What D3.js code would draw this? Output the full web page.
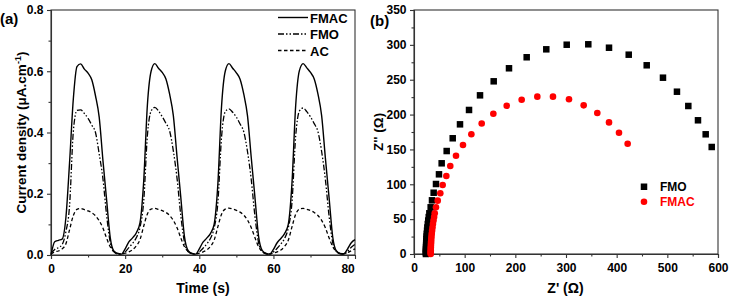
<!DOCTYPE html>
<html>
<head>
<meta charset="utf-8">
<script src="https://cdn.jsdelivr.net/npm/d3@7"></script>
<style>
  body { margin: 0; background: #fff; }
  svg text { font-family: "Liberation Sans", Arial, sans-serif; font-weight: bold; fill: #000; }
</style>
</head>
<body>
<script>
// ---- panel (a): photocurrent vs time ----
const timeS = [0, 1, 2, 3, 4, 5, 6, 7, 8, 9, 10, 11, 12, 13, 14, 15, 16, 17, 18, 19,
  20, 21, 22, 23, 24, 25, 26, 27, 28, 29, 30, 31, 32, 33, 34, 35, 36, 37, 38, 39,
  40, 41, 42, 43, 44, 45, 46, 47, 48, 49, 50, 51, 52, 53, 54, 55, 56, 57, 58, 59,
  60, 61, 62, 63, 64, 65, 66, 67, 68, 69, 70, 71, 72, 73, 74, 75, 76, 77, 78, 79,
  80, 81, 82];

const fmacCurrent = [
  0.000, 0.043, 0.048, 0.052, 0.120, 0.300, 0.506, 0.615, 0.624, 0.607,
  0.594, 0.572, 0.520, 0.450, 0.310, 0.180, 0.055, 0.012, 0.005, 0.003,
  0.020, 0.043, 0.056, 0.072, 0.105, 0.240, 0.490, 0.600, 0.625, 0.610,
  0.596, 0.575, 0.525, 0.455, 0.320, 0.190, 0.060, 0.014, 0.005, 0.003,
  0.020, 0.042, 0.055, 0.070, 0.100, 0.230, 0.485, 0.600, 0.625, 0.610,
  0.595, 0.574, 0.525, 0.455, 0.320, 0.190, 0.060, 0.014, 0.005, 0.003,
  0.018, 0.040, 0.054, 0.070, 0.100, 0.235, 0.488, 0.602, 0.625, 0.611,
  0.596, 0.575, 0.526, 0.455, 0.318, 0.188, 0.058, 0.013, 0.005, 0.004,
  0.020, 0.040, 0.050];

const fmoCurrent = [
  0.005, 0.018, 0.024, 0.034, 0.075, 0.160, 0.400, 0.472, 0.474, 0.462,
  0.446, 0.424, 0.400, 0.330, 0.250, 0.130, 0.040, 0.010, 0.003, 0.003,
  0.010, 0.024, 0.038, 0.056, 0.090, 0.175, 0.390, 0.470, 0.482, 0.470,
  0.452, 0.430, 0.405, 0.340, 0.250, 0.130, 0.042, 0.011, 0.004, 0.003,
  0.010, 0.022, 0.036, 0.054, 0.088, 0.170, 0.385, 0.468, 0.477, 0.466,
  0.450, 0.428, 0.402, 0.338, 0.248, 0.128, 0.040, 0.011, 0.004, 0.003,
  0.010, 0.022, 0.036, 0.054, 0.088, 0.172, 0.388, 0.470, 0.480, 0.468,
  0.451, 0.429, 0.403, 0.338, 0.248, 0.128, 0.040, 0.011, 0.004, 0.003,
  0.012, 0.025, 0.035];

const acCurrent = [
  0.003, 0.010, 0.013, 0.020, 0.036, 0.082, 0.128, 0.149, 0.152, 0.148,
  0.144, 0.138, 0.128, 0.112, 0.088, 0.055, 0.026, 0.011, 0.005, 0.004,
  0.006, 0.010, 0.017, 0.030, 0.050, 0.094, 0.134, 0.150, 0.152, 0.149,
  0.145, 0.139, 0.129, 0.113, 0.089, 0.056, 0.027, 0.011, 0.005, 0.004,
  0.006, 0.010, 0.016, 0.028, 0.048, 0.092, 0.133, 0.150, 0.153, 0.150,
  0.146, 0.140, 0.130, 0.114, 0.090, 0.057, 0.027, 0.011, 0.005, 0.004,
  0.006, 0.010, 0.016, 0.028, 0.048, 0.092, 0.133, 0.150, 0.152, 0.149,
  0.145, 0.139, 0.129, 0.113, 0.089, 0.056, 0.027, 0.011, 0.005, 0.004,
  0.008, 0.014, 0.020];

const timeTicks = [0, 20, 40, 60, 80];
const timeMinor = [10, 30, 50, 70];
const currentTicks = [0, 0.2, 0.4, 0.6, 0.8];
const currentMinor = [0.1, 0.3, 0.5, 0.7];

// ---- panel (b): Nyquist plot ----
const fmoZre = [23.6, 23.6, 23.6, 23.65, 23.7, 23.8, 23.9, 24.0, 24.2, 24.5, 24.8, 25.2,
  25.8, 26.4, 27.2, 28.1, 29.1, 30.3, 32.9, 35.5, 38.8, 43.4, 49.3, 54.6, 64.5, 76.4,
  90.8, 108.6, 130.3, 157.3, 187.5, 222.4, 261.1, 301.4, 344.0, 384.9, 423.8, 459.3,
  491.4, 519.0, 541.4, 560.5, 575.7, 587.6];
const fmoZim = [0, 1.5, 3, 5, 7, 9.5, 12, 15, 18, 21.5, 25, 29,
  33.5, 38, 43, 48, 53, 58.4, 67.0, 77.0, 87.9, 100.4, 114.3, 130.1, 147.7, 166.0,
  186.0, 206.6, 227.6, 247.7, 266.4, 282.2, 293.6, 300.2, 300.8, 295.9, 285.9, 270.7,
  252.9, 232.8, 212.3, 191.8, 171.7, 153.5];

const fmacZre = [33.0, 33.0, 33.0, 33.05, 33.1, 33.2, 33.35, 33.55, 33.8, 34.1, 34.5, 35.0,
  35.7, 36.5, 37.4, 38.5, 39.7, 40.9, 43.4, 46.8, 51.9, 56.6, 63.8, 71.6, 82.9, 96.7,
  113.2, 133.6, 156.6, 183.0, 212.5, 243.4, 274.3, 305.9, 334.9, 361.8, 384.9, 404.6, 421.7];
const fmacZim = [0, 1.5, 3, 5, 7, 9.5, 12, 15, 18, 21.5, 25, 29,
  33.5, 38, 43, 48, 53, 58.4, 67.0, 76.5, 87.1, 99.0, 111.9, 126.2, 141.0, 156.4,
  171.8, 187.3, 201.2, 212.7, 221.3, 225.7, 225.7, 221.9, 213.2, 202.2, 188.8, 174.0, 158.2];

const zreTicks = [0, 100, 200, 300, 400, 500, 600];
const zreMinor = [50, 150, 250, 350, 450, 550];
const zimTicks = [0, 50, 100, 150, 200, 250, 300, 350];
const zimMinor = [25, 75, 125, 175, 225, 275, 325];

const svg = d3.select('body').append('svg').attr('width', 730).attr('height', 301);
const axisColor = '#333';

function frame(x, y, xt, xm, yt, ym, fmtX, fmtY, fs) {
  const [x0, x1] = x.range();
  const [y0, y1] = y.range();
  const gx = svg.append('g').attr('transform', `translate(0,${y0})`)
    .call(d3.axisBottom(x).tickValues(xt).tickSize(4).tickPadding(5).tickFormat(fmtX));
  svg.append('g').attr('transform', `translate(0,${y0})`)
    .call(d3.axisBottom(x).tickValues(xm).tickSize(2.5).tickFormat(''))
    .select('.domain').remove();
  const gy = svg.append('g').attr('transform', `translate(${x0},0)`)
    .call(d3.axisLeft(y).tickValues(yt).tickSize(4).tickPadding(3.5).tickFormat(fmtY));
  svg.append('g').attr('transform', `translate(${x0},0)`)
    .call(d3.axisLeft(y).tickValues(ym).tickSize(2.5).tickFormat(''))
    .select('.domain').remove();
  svg.selectAll('.domain, .tick line').attr('stroke', axisColor).attr('stroke-width', 1.1);
  [gx, gy].forEach((g) => g.selectAll('text').style('font-size', fs + 'px').attr('fill', '#000'));
  svg.append('rect').attr('x', x0).attr('y', y1).attr('width', x1 - x0).attr('height', y0 - y1)
    .attr('fill', 'none').attr('stroke', axisColor).attr('stroke-width', 1.1);
}

// ---- draw (a) ----
const xA = d3.scaleLinear().domain([0, 82]).range([51, 355]);
const yA = d3.scaleLinear().domain([0, 0.8]).range([255, 10]);
frame(xA, yA, timeTicks, timeMinor, currentTicks, currentMinor, d3.format('d'), d3.format('.1f'), 12);

const seriesA = [
  { name: 'FMAC', values: fmacCurrent, dash: null, width: 1.4 },
  { name: 'FMO', values: fmoCurrent, dash: '6,2,1.5,2,1.5,2', width: 1.3 },
  { name: 'AC', values: acCurrent, dash: '3.5,2.5', width: 1.3 },
];
const lineA = d3.line()
  .x((d, i) => xA(timeS[i]))
  .y((d) => yA(d))
  .curve(d3.curveMonotoneX);

seriesA.forEach((s, k) => {
  svg.append('path').attr('d', lineA(s.values))
    .attr('fill', 'none').attr('stroke', '#000').attr('stroke-width', s.width)
    .attr('stroke-dasharray', s.dash);
  const ly = 17.5 + k * 16.5;
  svg.append('line').attr('x1', 278).attr('x2', 308).attr('y1', ly).attr('y2', ly)
    .attr('stroke', '#000').attr('stroke-width', s.width).attr('stroke-dasharray', s.dash);
  svg.append('text').attr('x', 310).attr('y', ly + 5).style('font-size', '13px').text(s.name);
});

svg.append('text').attr('x', 203).attr('y', 293).attr('text-anchor', 'middle')
  .style('font-size', '14px').text('Time (s)');
const yLabA = svg.append('text').attr('transform', 'translate(25.5,132.5) rotate(-90)')
  .attr('text-anchor', 'middle').style('font-size', '13.5px');
yLabA.append('tspan').text('Current density (\u03bcA.cm');
yLabA.append('tspan').attr('dy', -5).style('font-size', '9px').text('-1');
yLabA.append('tspan').attr('dy', 5).text(')');
svg.append('text').attr('x', 0).attr('y', 24).style('font-size', '15px').text('(a)');

// ---- draw (b) ----
const xB = d3.scaleLinear().domain([0, 600]).range([414, 718]);
const yB = d3.scaleLinear().domain([0, 350]).range([254, 10]);
frame(xB, yB, zreTicks, zreMinor, zimTicks, zimMinor, d3.format('d'), d3.format('d'), 12);

svg.append('g').selectAll('rect').data(fmoZre).enter().append('rect')
  .attr('x', (d) => xB(d) - 3.25)
  .attr('y', (d, i) => yB(fmoZim[i]) - 3.25)
  .attr('width', 6.5).attr('height', 6.5).attr('fill', '#000');
svg.append('g').selectAll('circle').data(fmacZre).enter().append('circle')
  .attr('cx', (d) => xB(d))
  .attr('cy', (d, i) => yB(fmacZim[i]))
  .attr('r', 3.3).attr('fill', '#ff0000');

svg.append('rect').attr('x', 640.75).attr('y', 183.5).attr('width', 6.5).attr('height', 6.5).attr('fill', '#000');
svg.append('text').attr('x', 660).attr('y', 191).style('font-size', '12px').text('FMO');
svg.append('circle').attr('cx', 644).attr('cy', 201.7).attr('r', 3.3).attr('fill', '#ff0000');
svg.append('text').attr('x', 660).attr('y', 206).style('font-size', '12px')
  .style('fill', '#ff0000').text('FMAC');

svg.append('text').attr('x', 565.5).attr('y', 293).attr('text-anchor', 'middle')
  .style('font-size', '14px').text("Z' (\u03a9)");
svg.append('text').attr('transform', 'translate(383,132) rotate(-90)')
  .attr('text-anchor', 'middle').style('font-size', '13.5px').text("Z'' (\u03a9)");
svg.append('text').attr('x', 370).attr('y', 26).style('font-size', '15px').text('(b)');
</script>
</body>
</html>
